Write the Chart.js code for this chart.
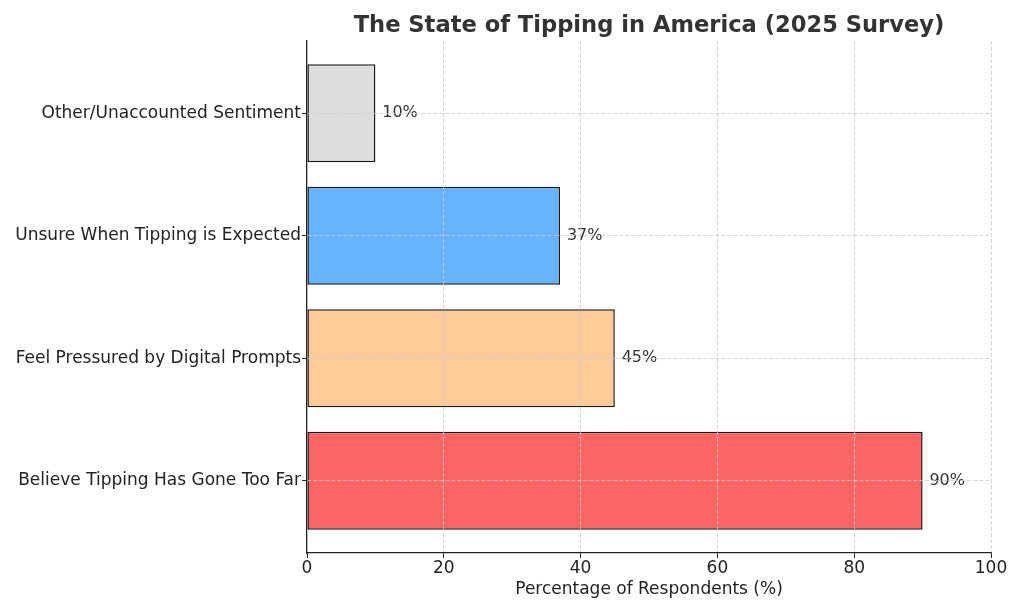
<!DOCTYPE html>
<html lang="en">
<head>
  <meta charset="UTF-8">
  <title>The State of Tipping in America (2025 Survey)</title>
  <script src="https://cdn.jsdelivr.net/npm/chart.js"></script>
  <style>
    html, body { margin: 0; padding: 0; background: #fff; }
    #wrap { width: 1023px; height: 614px; }
  </style>
</head>
<body>
  <div id="wrap"><canvas id="chart_div" width="1023" height="614"></canvas></div>
  <script>
    // bottom to top, like the picture
    const categories = ['Believe Tipping Has Gone Too Far', 'Feel Pressured by Digital Prompts', 'Unsure When Tipping is Expected', 'Other/Unaccounted Sentiment'];
    const values = [90, 45, 37, 10];
    const barColors = ['#ff6666', '#ffcc99', '#66b3ff', '#dddddd'];
    const xTicks = [0, 20, 40, 60, 80, 100];

    const font = "'DejaVu Sans', sans-serif";

    const valueLabels = {
      id: 'valueLabels',
      afterDatasetsDraw(chart) {
        const ctx = chart.ctx;
        const meta = chart.getDatasetMeta(0);
        const xs = chart.scales.x;
        ctx.save();
        ctx.font = '16px ' + font;
        ctx.fillStyle = '#333333';
        ctx.textAlign = 'left';
        ctx.textBaseline = 'middle';
        meta.data.forEach((bar, i) => {
          ctx.fillText(values[i] + '%', xs.getPixelForValue(values[i] + 1), bar.y);
        });
        ctx.restore();
      }
    };

    const gridOpts = {
      z: 1,
      offset: false,
      color: '#cccccc',
      lineWidth: 0.8,
      drawTicks: true,
      tickLength: 5,
      tickColor: '#222222',
      tickBorderDash: [],
      tickWidth: 1
    };

    new Chart(document.getElementById('chart_div'), {
      type: 'bar',
      data: {
        datasets: [{
          data: values.map((v, i) => ({ x: v, y: i })),
          backgroundColor: barColors,
          borderColor: '#1a1a1a',
          borderWidth: 1.5,
          borderSkipped: false,
          barPercentage: 0.8,
          categoryPercentage: 1
        }]
      },
      options: {
        indexAxis: 'y',
        responsive: false,
        animation: false,
        devicePixelRatio: 1,
        layout: { padding: { left: 0, right: 32, top: 0, bottom: 0 } },
        plugins: {
          legend: { display: false },
          tooltip: { enabled: false },
          title: {
            display: true,
            fullSize: false,
            text: 'The State of Tipping in America (2025 Survey)',
            color: '#333333',
            font: { family: font, size: 22.6, weight: 'bold', lineHeight: 1.2 },
            padding: { top: 12.5, bottom: 1.4 }
          }
        },
        scales: {
          x: {
            type: 'linear',
            min: 0,
            max: 100,
            afterBuildTicks: (s) => { s.ticks = xTicks.map(v => ({ value: v })); },
            afterFit: (s) => { s.height = 61; },
            ticks: { color: '#222222', font: { family: font, size: 17 }, padding: 0 },
            grid: Object.assign({}, gridOpts, {
              color: (c) => c.tick && c.tick.value === 0 ? 'rgba(0,0,0,0)' : '#cccccc'
            }),
            border: { display: true, color: '#222222', width: 1.3, z: 2, dash: [4, 2] },
            title: {
              display: true,
              text: 'Percentage of Respondents (%)',
              color: '#222222',
              font: { family: font, size: 17, lineHeight: 1.2 },
              padding: { top: 0, bottom: 14 }
            }
          },
          y: {
            type: 'linear',
            min: -0.59,
            max: 3.59,
            offset: false,
            afterBuildTicks: (s) => { s.ticks = categories.map((c, i) => ({ value: i })); },
            afterFit: (s) => { s.width = 307; },
            ticks: {
              color: '#222222',
              font: { family: font, size: 17 },
              padding: 1,
              callback: (v) => categories[v]
            },
            grid: gridOpts,
            border: { display: true, color: '#222222', width: 1.3, z: 2, dash: [4, 2] }
          }
        }
      },
      plugins: [valueLabels]
    });
  </script>
</body>
</html>
